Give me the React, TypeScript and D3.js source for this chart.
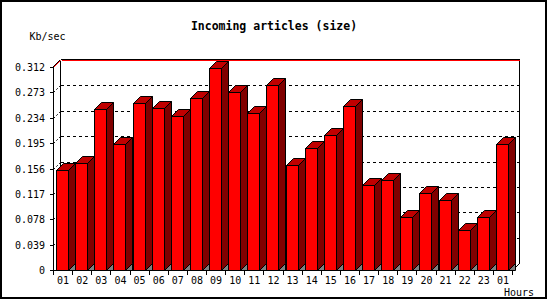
import React from "react";
import * as d3 from "d3";

const categories = ["01","02","03","04","05","06","07","08","09","10","11","12","13","14","15","16","17","18","19","20","21","22","23","01"];
const values = [0.153,0.165,0.247,0.193,0.256,0.249,0.237,0.264,0.310,0.273,0.242,0.285,0.161,0.187,0.207,0.252,0.131,0.138,0.081,0.118,0.107,0.062,0.081,0.193];
const yTicks = [0,0.039,0.078,0.117,0.156,0.195,0.234,0.273,0.312];
const yTickLabels = ["0","0.039","0.078","0.117","0.156","0.195","0.234","0.273","0.312"];
const title = "Incoming articles (size)";
const yUnit = "Kb/sec";
const xUnit = "Hours";

const W = 550, H = 300;
const X0 = 53.5, X1 = 512.5, Y0 = 270.5, YTOP = 67.5;
const D = 7; // 3D depth

export default function App() {
  const x = d3.scaleBand<number>().domain(categories.map((_, i) => i)).range([X0, X1]).padding(0);
  const y = d3.scaleLinear().domain([0, 0.312]).range([Y0, YTOP]);
  const step = x.step();
  const bw = 12;
  const mono = "'DejaVu Sans Mono', monospace";
  const px = (v: number) => Math.round(v - 0.5) + 0.5;

  return (
    <svg width={W} height={H} style={{ position: "absolute", left: 0, top: 0, background: "#fff" }}>
      <rect x={0} y={0} width={W} height={H} fill="#fff" />
      {/* frame */}
      <rect x={1} y={1} width={545} height={297} fill="none" stroke="#000" strokeWidth={2} shapeRendering="crispEdges" />
      {/* title */}
      <text x={274} y={30} textAnchor="middle" fontFamily={mono} fontWeight="bold" fontSize={11.5}>{title}</text>
      <text x={29.5} y={40} fontFamily={mono} fontSize={10}>{yUnit}</text>

      {/* back wall gridlines */}
      <g shapeRendering="crispEdges">
        {yTicks.slice(1, -1).map((t, i) => (
          <line key={"g" + i} x1={X0 + D} x2={X1 + D} y1={px(y(t) - D)} y2={px(y(t) - D)}
            stroke="#000" strokeDasharray="3,3" />
        ))}
      </g>
      {yTicks.slice(1, -1).map((t, i) => (
        <line key={"gd" + i} x1={X0} x2={X0 + D} y1={px(y(t))} y2={px(y(t)) - D} stroke="#000" strokeDasharray="2,2" />
      ))}
      {/* back wall edges */}
      <g shapeRendering="crispEdges">
        <line x1={X0 + D} x2={X0 + D} y1={YTOP - D} y2={Y0 - D} stroke="#000" />
        <line x1={X1 + D} x2={X1 + D} y1={YTOP - D - 1} y2={Y0 - D} stroke="#000" />
        <line x1={X0 + D} x2={X1 + D} y1={YTOP - D - 1} y2={YTOP - D - 1} stroke="#000" />
        <line x1={X0 + D + 1} x2={X1 + D} y1={YTOP - D} y2={YTOP - D} stroke="#ff0000" />
      </g>
      <line x1={X1} x2={X1 + D} y1={Y0} y2={Y0 - D} stroke="#000" />
      <line x1={X0} x2={X0 + D} y1={YTOP} y2={YTOP - D} stroke="#ff0000" />
      <line x1={X0 - 0.5} x2={X0 + D - 0.5} y1={YTOP - 0.5} y2={YTOP - D - 0.5} stroke="#000" />

      {/* bars */}
      {values.map((v, i) => {
        const bx = px((x(i) as number) + 3);
        const top = px(y(v));
        const r = bx + bw;
        return (
          <g key={"b" + i} stroke="#000" strokeWidth={1} strokeLinejoin="miter">
            <polygon points={`${r},${Y0} ${r + D},${Y0 - D} ${r + D},${Y0}`} fill="#808080" />
            <polygon points={`${r},${Y0} ${r + D},${Y0 - D} ${r + D},${top - D} ${r},${top}`} fill="#800000" />
            <polygon points={`${bx},${top} ${bx + D},${top - D} ${r + D},${top - D} ${r},${top}`} fill="#c00000" />
            <rect x={bx} y={top} width={bw} height={Y0 - top} fill="#ff0000" shapeRendering="crispEdges" />
          </g>
        );
      })}

      {/* front axes */}
      <g shapeRendering="crispEdges">
        <line x1={X0} x2={X0} y1={YTOP} y2={Y0} stroke="#000" />
        <line x1={X0} x2={X1} y1={Y0} y2={Y0} stroke="#000" />
        {yTicks.map((t, i) => (
          <line key={"ytl" + i} x1={X0 - 4} x2={X0} y1={px(y(t))} y2={px(y(t))} stroke="#000" />
        ))}
        {categories.map((c, i) => (
          <line key={"xtl" + i} x1={px(x(i) as number)} x2={px(x(i) as number)} y1={Y0} y2={Y0 + 4} stroke="#000" />
        ))}
        <line x1={X1} x2={X1} y1={Y0} y2={Y0 + 4} stroke="#000" />
      </g>
      {yTicks.map((t, i) => (
        <text key={"yt" + i} x={45} y={y(t)} dy="0.35em" textAnchor="end" fontFamily={mono} fontSize={10}>{yTickLabels[i]}</text>
      ))}
      {categories.map((c, i) => (
        <text key={"xt" + i} x={(x(i) as number) + step / 2} y={284} textAnchor="middle" fontFamily={mono} fontSize={10}>{c}</text>
      ))}
      <text x={534} y={295.5} textAnchor="end" fontFamily={mono} fontSize={10}>{xUnit}</text>
    </svg>
  );
}
